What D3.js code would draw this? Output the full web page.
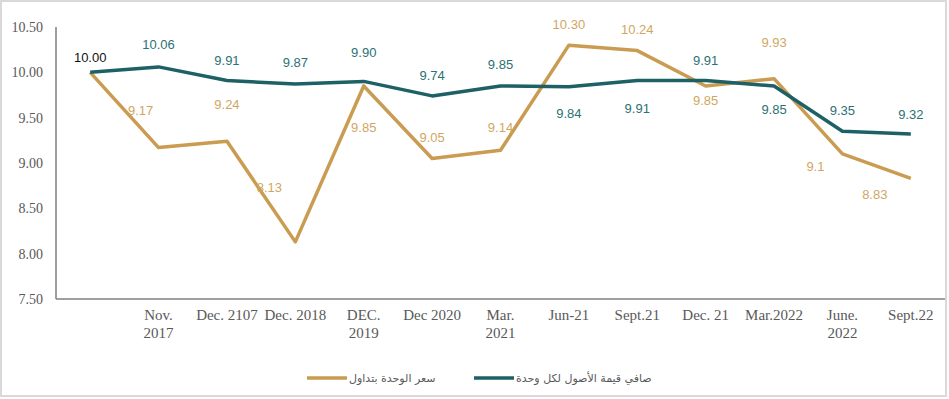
<!DOCTYPE html>
<html>
<head>
<meta charset="utf-8">
<script src="https://cdn.jsdelivr.net/npm/d3@7"></script>
<style>
  html, body { margin: 0; padding: 0; background: #fff; }
  svg { display: block; }
</style>
</head>
<body>
<svg width="949" height="399"></svg>
<script>
"use strict";

// categories (first one has no label in the original)
var categories = ["", "Nov.\n2017", "Dec. 2107", "Dec. 2018", "DEC.\n2019", "Dec 2020",
    "Mar.\n2021", "Jun-21", "Sept.21", "Dec. 21", "Mar.2022", "June.\n2022", "Sept.22"];

// سعر الوحدة بتداول
var priceValues = [10.00, 9.17, 9.24, 8.13, 9.85, 9.05, 9.14, 10.30, 10.24, 9.85, 9.93, 9.1, 8.83];
var priceLabels = ["", "9.17", "9.24", "8.13", "9.85", "9.05", "9.14", "10.30", "10.24", "9.85", "9.93", "9.1", "8.83"];

// صافي قيمة الأصول لكل وحدة
var navValues = [10.00, 10.06, 9.91, 9.87, 9.90, 9.74, 9.85, 9.84, 9.91, 9.91, 9.85, 9.35, 9.32];
var navLabels = ["10.00", "10.06", "9.91", "9.87", "9.90", "9.74", "9.85", "9.84", "9.91", "9.91", "9.85", "9.35", "9.32"];

var yTicks = [7.5, 8.0, 8.5, 9.0, 9.5, 10.0, 10.5];

var seriesNames = ["سعر الوحدة بتداول", "صافي قيمة الأصول لكل وحدة"];

// label placement (dx, dy relative to the point)
var priceLabelPos = [[0, 0], [-18, -37], [0, -37], [-26, -54], [0, 42], [0, -21], [0, -23],
    [0, -21], [0, -21], [0, 15], [0, -36], [-27, 13], [-36, 16]];
var navLabelPos = [[0, -15], [0, -22], [0, -20], [0, -22], [0, -29], [0, -20], [0, -21],
    [0, 27], [0, 28], [0, -20], [0, 24], [0, -21], [0, -20]];

var gold = "#c99c52", goldText = "#cfa764";
var teal = "#1d6166", tealText = "#2c7175";

window.onload = renderMyChart;

function renderMyChart() {
    var svg = d3.select("svg"),
        W = +svg.attr("width"), H = +svg.attr("height");

    // outer frame
    svg.append("rect")
        .attr("x", 1).attr("y", 1)
        .attr("width", W - 4).attr("height", H - 4)
        .attr("fill", "#fff")
        .attr("stroke", "#d9d9d9")
        .attr("stroke-width", 2);

    var x = d3.scaleBand().domain(d3.range(categories.length)).range([56, 945]),
        y = d3.scaleLinear().domain([7.5, 10.5]).range([299, 27]);

    var cx = function (i) { return x(i) + x.bandwidth() / 2; };

    // y axis labels
    svg.append("g").selectAll("text")
        .data(yTicks).enter().append("text")
        .attr("x", 43)
        .attr("y", function (d) { return y(d); })
        .attr("dy", "0.35em")
        .attr("text-anchor", "end")
        .attr("font-family", "Liberation Serif")
        .attr("font-size", 14)
        .attr("fill", "#595959")
        .text(function (d) { return d.toFixed(2); });

    // axis lines
    svg.append("line")
        .attr("x1", 56).attr("x2", 56)
        .attr("y1", y(10.5)).attr("y2", y(7.5))
        .attr("stroke", "#7f7f7f").attr("stroke-width", 1.5);
    svg.append("line")
        .attr("x1", 56).attr("x2", 945)
        .attr("y1", y(7.5)).attr("y2", y(7.5))
        .attr("stroke", "#7f7f7f").attr("stroke-width", 1.5);

    // x labels
    var xl = svg.append("g").selectAll("text")
        .data(categories).enter().append("text")
        .attr("x", function (d, i) { return cx(i); })
        .attr("y", 320)
        .attr("text-anchor", "middle")
        .attr("font-family", "Liberation Serif")
        .attr("font-size", 15)
        .attr("fill", "#595959");
    xl.each(function (d, i) {
        var t = d3.select(this);
        d.split("\n").forEach(function (part, k) {
            t.append("tspan")
                .attr("x", cx(i))
                .attr("dy", k === 0 ? 0 : 18)
                .text(part);
        });
    });

    var line = d3.line()
        .x(function (d, i) { return cx(i); })
        .y(function (d) { return y(d); });

    svg.append("path")
        .datum(priceValues)
        .attr("fill", "none")
        .attr("stroke", gold)
        .attr("stroke-width", 3.5)
        .attr("stroke-linejoin", "round")
        .attr("d", line);

    svg.append("path")
        .datum(navValues)
        .attr("fill", "none")
        .attr("stroke", teal)
        .attr("stroke-width", 3.5)
        .attr("stroke-linejoin", "round")
        .attr("d", line);

    // data labels
    svg.append("g").selectAll("text")
        .data(priceValues).enter().append("text")
        .attr("x", function (d, i) { return cx(i) + priceLabelPos[i][0]; })
        .attr("y", function (d, i) { return y(d) + priceLabelPos[i][1]; })
        .attr("dy", "0.35em")
        .attr("text-anchor", "middle")
        .attr("font-family", "Liberation Sans")
        .attr("font-size", 13)
        .attr("fill", goldText)
        .text(function (d, i) { return priceLabels[i]; });

    svg.append("g").selectAll("text")
        .data(navValues).enter().append("text")
        .attr("x", function (d, i) { return cx(i) + navLabelPos[i][0]; })
        .attr("y", function (d, i) { return y(d) + navLabelPos[i][1]; })
        .attr("dy", "0.35em")
        .attr("text-anchor", "middle")
        .attr("font-family", "Liberation Sans")
        .attr("font-size", 13)
        .attr("fill", function (d, i) { return i === 0 ? "#111" : tealText; })
        .text(function (d, i) { return navLabels[i]; });

    // legend
    var legend = svg.append("g");
    [[307, gold, seriesNames[0]], [474, teal, seriesNames[1]]].forEach(function (l) {
        legend.append("line")
            .attr("x1", l[0]).attr("x2", l[0] + 40)
            .attr("y1", 378).attr("y2", 378)
            .attr("stroke", l[1]).attr("stroke-width", 3.5);
        legend.append("text")
            .attr("x", l[0] + 42)
            .attr("y", 378)
            .attr("dy", "0.35em")
            .attr("direction", "rtl")
            .attr("text-anchor", "end")
            .attr("font-family", "DejaVu Sans")
            .attr("font-size", 11)
            .attr("fill", "#595959")
            .text(l[2]);
    });
}
</script>
</body>
</html>
